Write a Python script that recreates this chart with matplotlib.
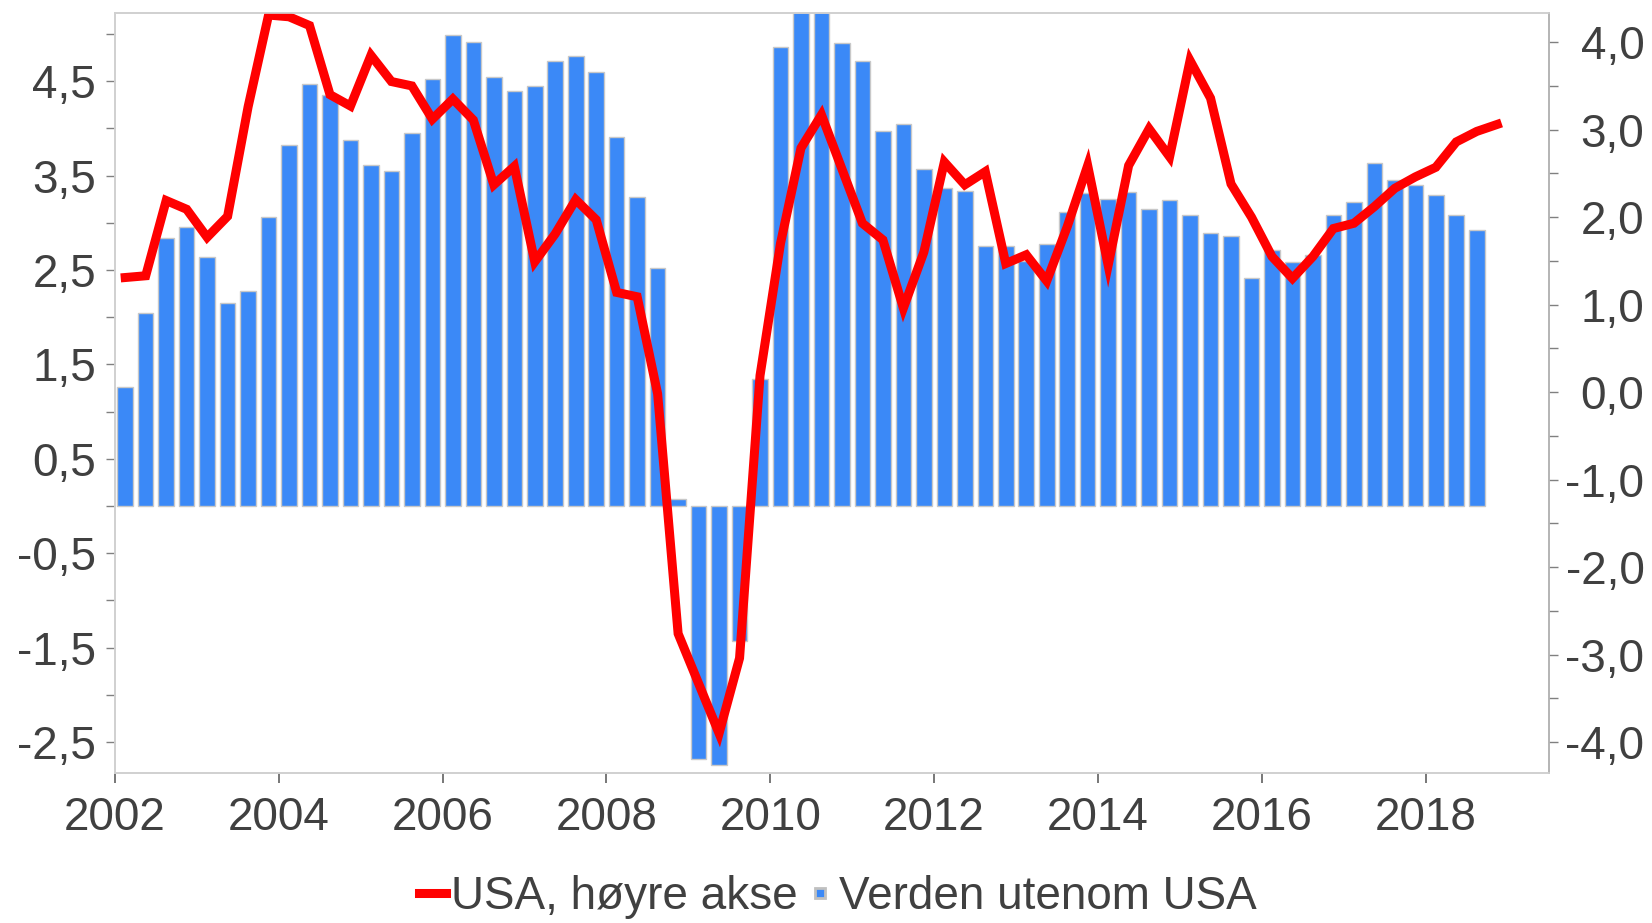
import numpy as np
import matplotlib
matplotlib.use("Agg")
import matplotlib.pyplot as plt
from matplotlib.lines import Line2D

plt.rcParams['font.family'] = ['Liberation Sans', 'DejaVu Sans']

# quarterly data, 2002Q1 onwards
start_year = 2002
world_ex_usa = [1.26, 2.04, 2.84, 2.96, 2.64, 2.15, 2.28, 3.06,
                3.83, 4.47, 4.35, 3.88, 3.61, 3.55, 3.95, 4.52,
                4.99, 4.92, 4.55, 4.40, 4.45, 4.71, 4.77, 4.60,
                3.91, 3.27, 2.52, 0.08, -2.68, -2.74, -1.43, 1.35,
                4.86, 5.40, 5.40, 4.91, 4.71, 3.97, 4.05, 3.57,
                3.37, 3.34, 2.75, 2.76, 2.60, 2.78, 3.12, 3.32,
                3.25, 3.33, 3.15, 3.24, 3.08, 2.89, 2.86, 2.42,
                2.71, 2.59, 2.66, 3.08, 3.22, 3.63, 3.45, 3.40,
                3.30, 3.08, 2.92]
usa = [1.31, 1.33, 2.19, 2.09, 1.77, 2.01, 3.26, 4.31,
       4.29, 4.19, 3.40, 3.27, 3.85, 3.55, 3.50, 3.12,
       3.35, 3.11, 2.37, 2.58, 1.49, 1.81, 2.20, 1.97,
       1.14, 1.09, -0.02, -2.76, -3.33, -3.90, -3.04, 0.19,
       1.70, 2.79, 3.17, 2.55, 1.93, 1.74, 0.96, 1.60,
       2.63, 2.37, 2.52, 1.47, 1.57, 1.27, 1.89, 2.59,
       1.45, 2.59, 3.01, 2.69, 3.79, 3.36, 2.38, 2.00,
       1.55, 1.30, 1.55, 1.87, 1.93, 2.12, 2.33, 2.46,
       2.57, 2.86, 2.98, 3.06]

x_bar = start_year + 0.125 + 0.25 * np.arange(len(world_ex_usa))
x_line = start_year + 0.125 + 0.25 * np.arange(len(usa))

left_ticks = [-2.5, -1.5, -0.5, 0.5, 1.5, 2.5, 3.5, 4.5]
right_ticks = [-4.0, -3.0, -2.0, -1.0, 0.0, 1.0, 2.0, 3.0, 4.0]
year_ticks = list(range(2002, 2019, 2))

txt = '#404040'
fs = 33

fig = plt.figure(figsize=(16.52, 9.23), dpi=100)
ax = fig.add_axes([0.0696, 0.1628, 0.8682, 0.8228])
ax2 = ax.twinx()

ax.bar(x_bar, world_ex_usa, width=0.19, color='#3b89f7', edgecolor='#c8c8c8', linewidth=1)
ax2.plot(x_line, usa, color='#ff0000', lw=6.5, solid_joinstyle='miter')

ax.set_xlim(2002, 2019.51)
ax.set_ylim(-2.825, 5.22)
ax2.set_ylim(-4.35, 4.33)

ax.set_yticks(left_ticks)
ax.set_yticklabels([f'{v:.1f}'.replace('.', ',') for v in left_ticks])
ax.set_yticks(np.arange(-2, 6, 1), minor=True)
ax2.set_yticks(right_ticks)
ax2.set_yticklabels([f'{v:.1f}'.replace('.', ',') for v in right_ticks])
ax2.set_yticks(np.arange(-3.5, 4.0, 1), minor=True)
ax.set_xticks(year_ticks)
ax.set_xticklabels([str(y) for y in year_ticks])

for a in (ax, ax2):
    for s in a.spines.values():
        s.set_color('#d0d0d0')
        s.set_linewidth(1.2)
ax2.spines['right'].set_color('#b0b0b0')

ax.tick_params(axis='y', which='both', length=6.5, width=1, color='#808080',
               labelsize=fs, labelcolor=txt, pad=7)
ax2.tick_params(axis='y', which='both', length=6.5, width=1, color='#808080',
                labelsize=fs, labelcolor=txt, pad=62)
for lab in ax2.get_yticklabels():
    lab.set_horizontalalignment('right')
ax.tick_params(axis='x', length=7, width=1.2, color='#606060',
               labelsize=fs, labelcolor=txt, pad=10)

handles = [Line2D([], [], color='#ff0000', lw=6.5),
           Line2D([], [], color='#3b89f7', marker='s', markersize=7,
                  markeredgecolor='#c0c0c0', markeredgewidth=2, linestyle='none')]
fig.legend(handles, ['USA, høyre akse', 'Verden utenom USA'], loc='center',
           bbox_to_anchor=(0.507, 1 - 897 / 923), ncol=2, frameon=False,
           fontsize=fs, labelcolor=txt, handlelength=0.6, handletextpad=0.1,
           columnspacing=0.2, borderpad=0, borderaxespad=0)

fig.savefig('out.png', dpi=100)
